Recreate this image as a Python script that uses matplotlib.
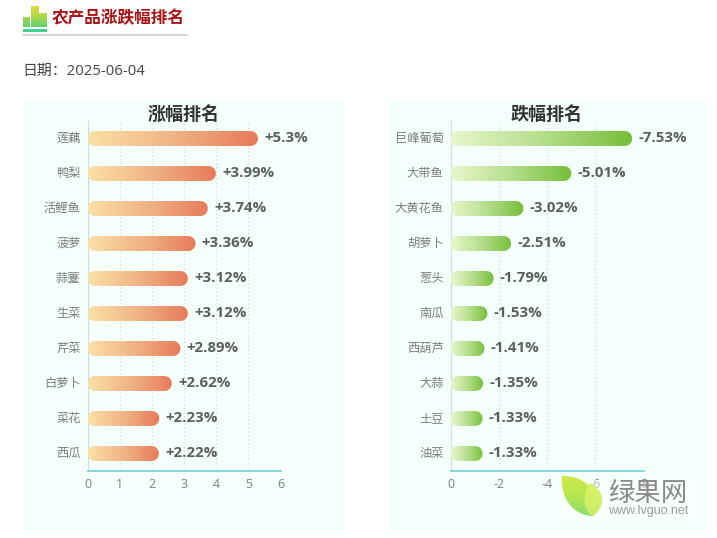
import matplotlib
matplotlib.use('Agg')
import matplotlib.pyplot as plt
import numpy as np
from matplotlib.colors import LinearSegmentedColormap
from matplotlib.patches import FancyBboxPatch, PathPatch, Polygon, Rectangle
from matplotlib.path import Path
from matplotlib.transforms import ScaledTranslation

plt.rcParams['font.family'] = ['Open Sans', 'Noto Sans CJK SC', 'DejaVu Sans']

W, H = 717, 538

# data
up_names = ['莲藕', '鸭梨', '活鲤鱼', '菠萝', '蒜薹', '生菜', '芹菜', '白萝卜', '菜花', '西瓜']
up_values = [5.3, 3.99, 3.74, 3.36, 3.12, 3.12, 2.89, 2.62, 2.23, 2.22]
up_ticks = [0, 1, 2, 3, 4, 5, 6]

down_names = ['巨峰葡萄', '大带鱼', '大黄花鱼', '胡萝卜', '葱头', '南瓜', '西葫芦', '大蒜', '土豆', '油菜']
down_values = [-7.53, -5.01, -3.02, -2.51, -1.79, -1.53, -1.41, -1.35, -1.33, -1.33]
down_ticks = [0, -2, -4, -6, -8]

up_cmap = LinearSegmentedColormap.from_list('up', ['#fbe0a8', '#f0b386', '#e87a58'])
down_cmap = LinearSegmentedColormap.from_list('down', ['#e9f7cc', '#b5de8c', '#76be3a'])
ramp = np.linspace(0, 1, 256).reshape(1, -1)


def px_axes(fig, x0, y0, x1, y1, **kw):
    """Axes placed with pixel coordinates measured from the top left"""
    return fig.add_axes([x0 / W, 1 - y1 / H, (x1 - x0) / W, (y1 - y0) / H], **kw)


def gradient_patch(ax, patch, extent, cmap, vertical=False, zorder=3):
    """Fill a patch with a gradient by clipping an image to it"""
    ax.add_patch(patch)
    patch.set_facecolor('none')
    patch.set_edgecolor('none')
    data = ramp.T if vertical else ramp
    img = ax.imshow(data, extent=extent, cmap=cmap, aspect='auto', zorder=zorder,
                    interpolation='bilinear')
    img.set_clip_path(patch)


def pill(x0, x1, y, rx, ry):
    """Bar outline with round ends, rx and ry are the radius in data units"""
    t = np.linspace(-np.pi / 2, np.pi / 2, 24)
    right = np.column_stack([x1 - rx + rx * np.cos(t), y + ry * np.sin(t)])
    left = np.column_stack([x0 + rx - rx * np.cos(t[::-1]), y + ry * np.sin(t[::-1])])
    return Polygon(np.vstack([right, left]), closed=True)


def draw_panel(fig, x0, names, values, ticks, xlim, title, cmap):
    ax = px_axes(fig, x0, 121, x0 + 193, 471)
    ax.patch.set_alpha(0)
    y_pos = np.arange(len(names))
    span = abs(xlim[1] - xlim[0])
    x_per_px = span / 193
    y_per_px = 1 / 35
    radius = 7.5

    for y, v in zip(y_pos, values):
        box = pill(min(0, v), max(0, v), y, radius * x_per_px, radius * y_per_px)
        gradient_patch(ax, box, (0, v, y + radius * y_per_px, y - radius * y_per_px), cmap)
        label = f'+{v}%' if v > 0 else f'{v}%'
        ax.annotate(label, (v, y), xytext=(4.5, 0.5), textcoords='offset points',
                    va='center', ha='left', fontsize=10.8, fontweight='bold', color='#5a5f5f')

    ax.set_xlim(*xlim)
    ax.set_ylim(len(names) - 0.5, -0.5)
    ax.set_yticks(y_pos, names)
    ax.set_xticks(ticks, [str(t) for t in ticks])
    ax.tick_params(axis='both', length=0, labelsize=8.8, labelcolor='#7a7f7f')
    ax.tick_params(axis='y', pad=5)
    ax.tick_params(axis='x', pad=5)
    # the CJK font sits low in its box, lift the category names a bit
    lift = ScaledTranslation(0, 1.5 / 100, fig.dpi_scale_trans)
    for lbl in ax.get_yticklabels():
        lbl.set_transform(lbl.get_transform() + lift)
    ax.grid(axis='x', linestyle=(0, (1, 2.5)), color='#c9d2d0', linewidth=0.8)
    ax.set_axisbelow(True)
    for side in ['top', 'right']:
        ax.spines[side].set_visible(False)
    ax.spines['left'].set_color('#c9dedd')
    ax.spines['left'].set_linewidth(0.8)
    ax.spines['bottom'].set_color('#62cfd8')
    ax.spines['bottom'].set_linewidth(1.1)
    # fixed y, otherwise matplotlib pushes the title back up above the axes
    ax.set_title(title, fontsize=13, fontweight='bold', color='#333333', y=1.0, pad=0.5)
    return ax


fig = plt.figure(figsize=(W / 100, H / 100), dpi=100, facecolor='white')

# page layer in pixels: header and the two cards
page = fig.add_axes([0, 0, 1, 1])
page.set_xlim(0, W)
page.set_ylim(H, 0)
page.axis('off')

for card_x in [23, 386]:
    page.add_patch(FancyBboxPatch((card_x, 100), 322, 432,
                                  boxstyle='round,pad=0,rounding_size=5',
                                  facecolor='#f5fffb', edgecolor='none'))

icon_cmap = LinearSegmentedColormap.from_list('icon', ['#ecd63c', '#a8d94c', '#5fd070'])
for bar_x, bar_w, bar_top in [(23, 7, 17), (30.5, 8, 6), (39, 8, 13)]:
    bar = Rectangle((bar_x, bar_top), bar_w, 27 - bar_top)
    gradient_patch(page, bar, (bar_x, bar_x + bar_w, 27, 6), icon_cmap, vertical=True)
page.add_patch(Rectangle((23, 29), 24, 3, facecolor='#3fcf90', edgecolor='none'))
page.plot([23, 187], [34.5, 34.5], color='#c8c8c8', linewidth=1.1)
page.set_xlim(0, W)
page.set_ylim(H, 0)

page.text(51.5, 18, '农产品涨跌幅排名', fontsize=12, fontweight='bold', color='#a81212',
          ha='left', va='center')
page.text(22.5, 71, '日期：2025-06-04', fontsize=10.7, color='#444444', ha='left', va='center')

draw_panel(fig, 87.5, up_names, up_values, up_ticks, (0, 6), '涨幅排名', up_cmap)
draw_panel(fig, 450.5, down_names, down_values, down_ticks, (0, -8), '跌幅排名', down_cmap)

# watermark on top of the right card
mark = fig.add_axes([0, 0, 1, 1])
mark.patch.set_alpha(0)
mark.axis('off')
mark.add_patch(FancyBboxPatch((558, 480), 136, 42, boxstyle='round,pad=0,rounding_size=8',
                              facecolor='white', edgecolor='none', alpha=0.45))
big_leaf = Path([(562, 476), (590, 476), (600, 495), (593, 516),
                 (575, 516), (560, 500), (562, 476)],
                [Path.MOVETO, Path.CURVE4, Path.CURVE4, Path.CURVE4,
                 Path.CURVE4, Path.CURVE4, Path.CURVE4])
small_leaf = Path([(589, 483), (600, 486), (610, 502), (593, 516),
                   (583, 512), (582, 495), (589, 483)],
                  [Path.MOVETO, Path.CURVE4, Path.CURVE4, Path.CURVE4,
                   Path.CURVE4, Path.CURVE4, Path.CURVE4])
leaf_cmap = LinearSegmentedColormap.from_list('leaf', ['#d4ea48', '#b4e650', '#84de70'])
gradient_patch(mark, PathPatch(big_leaf), (560, 600, 517, 475), leaf_cmap, vertical=True)
small_cmap = LinearSegmentedColormap.from_list('small', ['#dcf26a', '#c8ee66'])
gradient_patch(mark, PathPatch(small_leaf), (580, 608, 517, 482), small_cmap, vertical=True, zorder=4)
mark.text(608, 494, '绿果网', fontsize=19, color='#8a8a8a', ha='left', va='center')
mark.text(608, 511, 'www.lvguo.net', fontsize=9, color='#9a9a9a', ha='left', va='center',
          family='Liberation Sans')
mark.set_xlim(0, W)
mark.set_ylim(H, 0)

fig.savefig('out.png', dpi=100)
